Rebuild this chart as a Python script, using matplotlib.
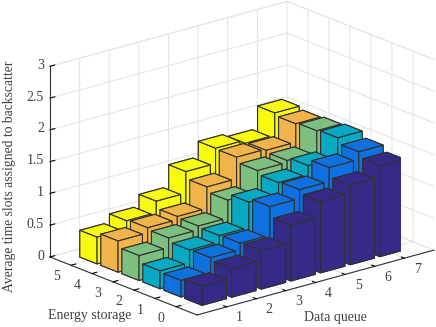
import matplotlib
matplotlib.use('Agg')
import matplotlib.pyplot as plt
import numpy as np
from mpl_toolkits.mplot3d import proj3d

plt.rcParams['font.family'] = ['Liberation Serif', 'DejaVu Serif']

# valori
data_queue = [1, 2, 3, 4, 5, 6, 7]
energy_storage = [0, 1, 2, 3, 4, 5]
row_0 = [0.30, 0.45, 0.60, 0.88, 1.12, 1.25, 1.43]
row_1 = [0.26, 0.49, 0.59, 1.04, 1.18, 1.40, 1.52]
row_2 = [0.28, 0.48, 0.58, 0.98, 1.16, 1.30, 1.61]
row_3 = [0.39, 0.54, 0.60, 0.88, 1.22, 1.25, 1.59]
row_4 = [0.49, 0.57, 0.62, 0.96, 1.30, 1.28, 1.57]
row_5 = [0.42, 0.55, 0.73, 1.07, 1.31, 1.26, 1.61]
rows = [row_0, row_1, row_2, row_3, row_4, row_5]
row_colors = ['#352A87', '#0F70E0', '#07AAC2', '#7CBF7E', '#F0B44A', '#F9FB0E']
z_ticks = [0, 0.5, 1, 1.5, 2, 2.5, 3]
z_tick_labels = ['0', '0.5', '1', '1.5', '2', '2.5', '3']

W, H = 436, 327
TEXT = '#404040'
bar_w = 0.82

fig = plt.figure(figsize=(W / 100, H / 100), dpi=100)
ax = fig.add_axes([0, 0, 1, 1], projection='3d', computed_zorder=False)
ax.set_proj_type('ortho')
ax.view_init(elev=19.2, azim=-129.8)

# barre dal fondo verso il davanti
for i in reversed(range(len(energy_storage))):
    for j in reversed(range(len(data_queue))):
        ax.bar3d(data_queue[j] - bar_w / 2, energy_storage[i] - bar_w / 2, 0,
                 bar_w, bar_w, rows[i][j], color=row_colors[i], shade=False,
                 edgecolor='#303030', linewidth=0.8,
                 zorder=100 - data_queue[j] - energy_storage[i])

ax.set_xlim(0, 8, view_margin=0)
ax.set_ylim(-1, 6, view_margin=0)
ax.set_zlim(0, 3, view_margin=0)
ax.set_xticks(data_queue)
ax.set_yticks(energy_storage)
ax.set_zticks(z_ticks)
ax.set_xticklabels([])
ax.set_yticklabels([])
ax.set_zticklabels([])

for axis in (ax.xaxis, ax.yaxis, ax.zaxis):
    axis.pane.set_facecolor('white')
    axis.pane.set_edgecolor('#DCDCDC')
    axis.pane.set_linewidth(0.7)
    axis.line.set_color('#303030')
    axis.line.set_linewidth(0.8)
    axis._axinfo['grid']['color'] = '#E2E2E2'
    axis._axinfo['grid']['linewidth'] = 0.7
    axis._axinfo['tick']['inward_factor'] = 0.0
    axis._axinfo['tick']['outward_factor'] = 0.25
    axis._axinfo['tick']['color'] = '#303030'
    axis._axinfo['tick']['linewidth'] = {True: 0.8, False: 0.5}

fig.text(10 / W, 1 - 176 / H, 'Average time slots assigned to backscatter', rotation=90,
         ha='center', va='center', fontsize=9.8, color=TEXT)
fig.text(90 / W, 1 - 315 / H, 'Energy storage', ha='center', va='center', fontsize=10, color=TEXT)
fig.text(335 / W, 1 - 318 / H, 'Data queue', ha='center', va='center', fontsize=10, color=TEXT)


def corner_px(x, y, z):
    xp, yp, _ = proj3d.proj_transform(x, y, z, ax.get_proj())
    return ax.transData.transform((xp, yp))


def tick_text(x, y, z, label, ha='center'):
    px = corner_px(x, y, z)
    fig.text(px[0] / W, px[1] / H, label, ha=ha, va='center', fontsize=10, color=TEXT)


# adatta scala e posizione al riquadro dell'originale
zoom = 1.0
ax.set_box_aspect((308.6, 229.8, 202), zoom=zoom)
for _ in range(3):
    fig.canvas.draw()
    span = corner_px(8, -1, 0)[0] - corner_px(0, 6, 0)[0]
    zoom *= (434 - 50) / span
    ax.set_box_aspect((308.6, 229.8, 202), zoom=zoom)
fig.canvas.draw()
front = corner_px(0, -1, 0)
ax.set_position([(197 - front[0]) / W, ((H - 315) - front[1]) / H, 1, 1])
fig.canvas.draw()

# etichette dei tick, il pad nativo non basta
for q in data_queue:
    tick_text(q, -1.62, -0.094, str(q))
for e in energy_storage:
    tick_text(-0.5, e, -0.12, str(e))
for z, lab in zip(z_ticks, z_tick_labels):
    tick_text(-0.2, 6, z + 0.04, lab, ha='right')

fig.savefig('out.png', dpi=100)
